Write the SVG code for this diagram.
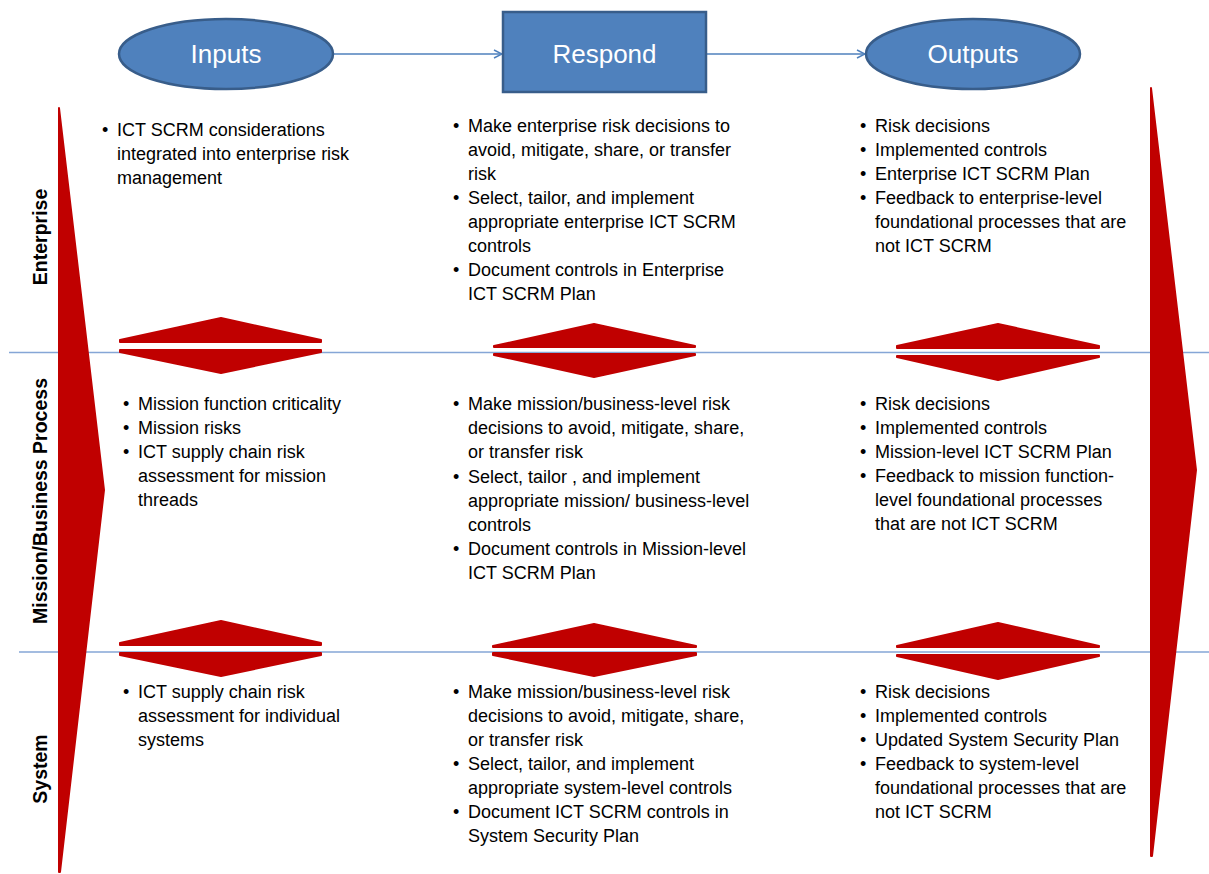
<svg xmlns="http://www.w3.org/2000/svg" width="1209" height="874" viewBox="0 0 1209 874">
<defs>
<style>
.node{fill:#4f81bd;stroke:#385d8a;stroke-width:2.5}
.ntxt{font-family:"Liberation Sans",Arial,sans-serif;font-size:26px;fill:#ffffff;text-anchor:middle}
.conn{stroke:#4f81bd;stroke-width:1.5;fill:none}
.sep{stroke:#85a6d6;stroke-width:1.5;fill:none}
.red{fill:#c00000;stroke:#c00000;stroke-width:2;stroke-linejoin:round}
.t{font-family:"Liberation Sans",Arial,sans-serif;font-size:18px;fill:#000000}
.lbl{font-family:"Liberation Sans",Arial,sans-serif;font-size:19.5px;font-weight:bold;fill:#000000;text-anchor:middle}
</style>
<marker id="arr" viewBox="0 0 10 10" refX="9" refY="5" markerWidth="10" markerHeight="10" markerUnits="userSpaceOnUse" orient="auto">
<path d="M1,1 L9,5 L1,9" fill="none" stroke="#4f81bd" stroke-width="1.5"/>
</marker>
</defs>
<rect width="1209" height="874" fill="#ffffff"/>

<g id="separators">
<line class="sep" x1="9" y1="352.5" x2="1209" y2="352.5"/>
<line class="sep" x1="19" y1="652" x2="1209" y2="652"/>
</g>

<g id="flow-arrows">
<polygon class="red" points="59,108 104,490 60,872 59,872"/>
<polygon class="red" points="1151,88 1196,470 1152,856 1151,856"/>
<polygon class="red" points="120,340 221,318 321,340 321,342 120,342"/>
<polygon class="red" points="120,350 321,350 321,352 221,373 120,352"/>
<polygon class="red" points="494,346 594,324 695,346 695,347 494,347"/>
<polygon class="red" points="494,354 695,354 695,355 594,377 494,355"/>
<polygon class="red" points="897,346 998,324 1099,346 1099,348 897,348"/>
<polygon class="red" points="897,356 1099,356 1099,357 998,380 897,357"/>
<polygon class="red" points="120,643 221,621 321,643 321,645 120,645"/>
<polygon class="red" points="120,653 321,653 321,655 221,676 120,655"/>
<polygon class="red" points="493,646 594,624 696,646 696,647 493,647"/>
<polygon class="red" points="493,653 696,653 696,655 594,676 493,655"/>
<polygon class="red" points="897,646 998,623 1099,646 1099,647 897,647"/>
<polygon class="red" points="897,655 1099,655 1099,656 998,679 897,656"/>
</g>

<g id="connectors">
<line class="conn" x1="334" y1="54" x2="502" y2="54" marker-end="url(#arr)"/>
<line class="conn" x1="707" y1="54" x2="865" y2="54" marker-end="url(#arr)"/>
</g>

<g id="inputs">
<ellipse class="node" cx="226" cy="54" rx="107" ry="35"/>
<text class="ntxt" x="226" y="63">Inputs</text>
</g>
<g id="respond">
<rect class="node" x="503" y="12" width="203" height="80"/>
<text class="ntxt" x="604.5" y="63">Respond</text>
</g>
<g id="outputs">
<ellipse class="node" cx="973" cy="54" rx="107" ry="35"/>
<text class="ntxt" x="973" y="63">Outputs</text>
</g>

<g id="row-labels">
<text class="lbl" transform="translate(47,237) rotate(-90)">Enterprise</text>
<text class="lbl" transform="translate(47,501) rotate(-90)">Mission/Business Process</text>
<text class="lbl" transform="translate(47,769) rotate(-90)">System</text>
</g>

<g id="enterprise-inputs" class="t">
<text x="102" y="136">•</text>
<text x="117" y="136">ICT SCRM considerations</text>
<text x="117" y="160">integrated into enterprise risk</text>
<text x="117" y="184">management</text>
</g>
<g id="enterprise-respond" class="t">
<text x="453" y="132">•</text>
<text x="468" y="132">Make enterprise risk decisions to</text>
<text x="468" y="156">avoid, mitigate, share, or transfer</text>
<text x="468" y="180">risk</text>
<text x="453" y="204">•</text>
<text x="468" y="204">Select, tailor, and implement</text>
<text x="468" y="228">appropriate enterprise ICT SCRM</text>
<text x="468" y="252">controls</text>
<text x="453" y="276">•</text>
<text x="468" y="276">Document controls in Enterprise</text>
<text x="468" y="300">ICT SCRM Plan</text>
</g>
<g id="enterprise-outputs" class="t">
<text x="860" y="132">•</text>
<text x="875" y="132">Risk decisions</text>
<text x="860" y="156">•</text>
<text x="875" y="156">Implemented controls</text>
<text x="860" y="180">•</text>
<text x="875" y="180">Enterprise ICT SCRM Plan</text>
<text x="860" y="204">•</text>
<text x="875" y="204">Feedback to enterprise-level</text>
<text x="875" y="228">foundational processes that are</text>
<text x="875" y="252">not ICT SCRM</text>
</g>

<g id="mission-inputs" class="t">
<text x="123" y="410">•</text>
<text x="138" y="410">Mission function criticality</text>
<text x="123" y="434">•</text>
<text x="138" y="434">Mission risks</text>
<text x="123" y="458">•</text>
<text x="138" y="458">ICT supply chain risk</text>
<text x="138" y="482">assessment for mission</text>
<text x="138" y="506">threads</text>
</g>
<g id="mission-respond" class="t">
<text x="453" y="410">•</text>
<text x="468" y="410">Make mission/business-level risk</text>
<text x="468" y="434">decisions to avoid, mitigate, share,</text>
<text x="468" y="458">or transfer risk</text>
<text x="453" y="483">•</text>
<text x="468" y="483">Select, tailor , and implement</text>
<text x="468" y="507">appropriate mission/ business-level</text>
<text x="468" y="531">controls</text>
<text x="453" y="555">•</text>
<text x="468" y="555">Document controls in Mission-level</text>
<text x="468" y="579">ICT SCRM Plan</text>
</g>
<g id="mission-outputs" class="t">
<text x="860" y="410">•</text>
<text x="875" y="410">Risk decisions</text>
<text x="860" y="434">•</text>
<text x="875" y="434">Implemented controls</text>
<text x="860" y="458">•</text>
<text x="875" y="458">Mission-level ICT SCRM Plan</text>
<text x="860" y="482">•</text>
<text x="875" y="482">Feedback to mission function-</text>
<text x="875" y="506">level foundational processes</text>
<text x="875" y="530">that are not ICT SCRM</text>
</g>

<g id="system-inputs" class="t">
<text x="123" y="698">•</text>
<text x="138" y="698">ICT supply chain risk</text>
<text x="138" y="722">assessment for individual</text>
<text x="138" y="746">systems</text>
</g>
<g id="system-respond" class="t">
<text x="453" y="698">•</text>
<text x="468" y="698">Make mission/business-level risk</text>
<text x="468" y="722">decisions to avoid, mitigate, share,</text>
<text x="468" y="746">or transfer risk</text>
<text x="453" y="770">•</text>
<text x="468" y="770">Select, tailor, and implement</text>
<text x="468" y="794">appropriate system-level controls</text>
<text x="453" y="818">•</text>
<text x="468" y="818">Document ICT SCRM controls in</text>
<text x="468" y="842">System Security Plan</text>
</g>
<g id="system-outputs" class="t">
<text x="860" y="698">•</text>
<text x="875" y="698">Risk decisions</text>
<text x="860" y="722">•</text>
<text x="875" y="722">Implemented controls</text>
<text x="860" y="746">•</text>
<text x="875" y="746">Updated System Security Plan</text>
<text x="860" y="770">•</text>
<text x="875" y="770">Feedback to system-level</text>
<text x="875" y="794">foundational processes that are</text>
<text x="875" y="818">not ICT SCRM</text>
</g>
</svg>
